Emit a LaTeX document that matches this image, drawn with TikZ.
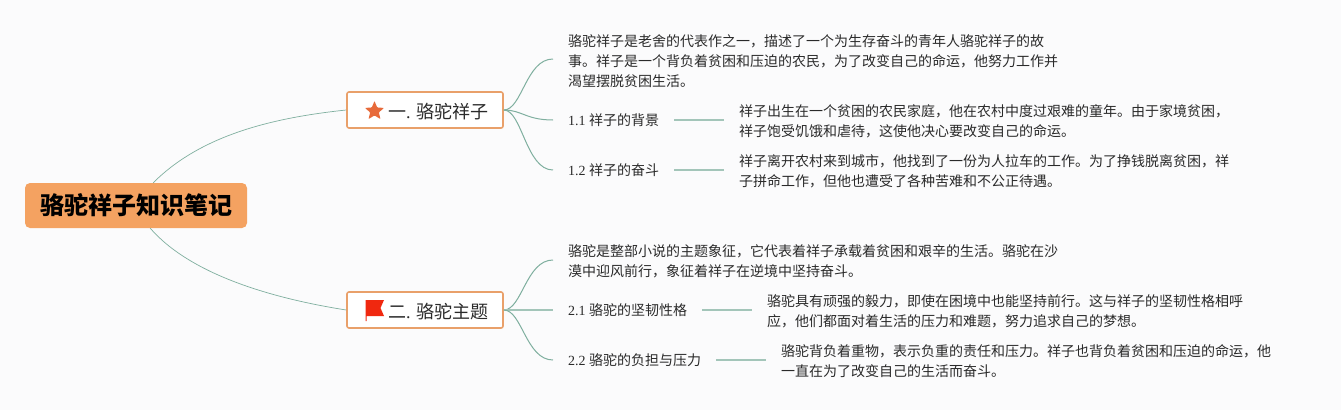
\documentclass[tikz,border=0pt]{standalone}
\usepackage{fontspec}
\setmainfont{Noto Sans CJK SC}
\newfontfamily\latf{Liberation Serif}
\newcommand{\lat}[1]{{\latf #1}}
\definecolor{bgc}{HTML}{FBFBFC}
\definecolor{rootc}{HTML}{F4A261}
\definecolor{edgec}{HTML}{E9A06A}
\definecolor{linkc}{HTML}{7FAF9F}
\definecolor{stemc}{HTML}{A3C5B9}
\definecolor{txtc}{HTML}{2A2A2A}
\definecolor{starc}{HTML}{E76A3A}
\definecolor{flagc}{HTML}{F0280F}
\tikzset{
  x=1pt,y=-1pt,
  rootbox/.style={fill=rootc,rounded corners=5pt,minimum width=222pt,minimum height=45pt,inner sep=0pt,font=\fontsize{24}{28}\selectfont\bfseries,text=black},
  branchbox/.style={draw=edgec,fill=white,rounded corners=2pt,line width=1.6pt,minimum width=156pt,minimum height=36pt,inner sep=0pt},
  branchtext/.style={inner sep=0pt,anchor=west,font=\fontsize{18}{22}\selectfont,text=txtc},
  leaf/.style={anchor=west,inner xsep=15pt,inner ysep=0pt,align=left,font=\fontsize{14}{20}\selectfont,text=txtc},
  link/.style={draw=linkc,line width=1pt},
  thin link/.style={draw=linkc,line width=.7pt},
  stem/.style={draw=stemc,line width=1.5pt},
}
\begin{document}
\begin{tikzpicture}
\useasboundingbox (0,0) rectangle (1341,410);
\fill[bgc] (0,0) rectangle (1341,410);

% nodes
\node[rootbox] (root) at (136,205.5) {骆驼祥子知识笔记};
\node[branchbox] (b1) at (425,110) {};
\node[branchbox] (b2) at (425,310) {};
\node[branchtext] (b1t) at (388,111.5) {一\lat{. }骆驼祥子};
\node[branchtext] (b2t) at (388,311.5) {二\lat{. }骆驼主题};

\node[leaf] (a0) at (553,61) {骆驼祥子是老舍的代表作之一，描述了一个为生存奋斗的青年人骆驼祥子的故\\事。祥子是一个背负着贫困和压迫的农民，为了改变自己的命运，他努力工作并\\渴望摆脱贫困生活。};
\node[leaf] (a1) at (553,120) {\lat{1.1 }祥子的背景};
\node[leaf] (a2) at (553,170) {\lat{1.2 }祥子的奋斗};
\node[leaf] (a1d) at (724,121) {祥子出生在一个贫困的农民家庭，他在农村中度过艰难的童年。由于家境贫困，\\祥子饱受饥饿和虐待，这使他决心要改变自己的命运。};
\node[leaf] (a2d) at (724,171) {祥子离开农村来到城市，他找到了一份为人拉车的工作。为了挣钱脱离贫困，祥\\子拼命工作，但他也遭受了各种苦难和不公正待遇。};

\node[leaf] (c0) at (553,261) {骆驼是整部小说的主题象征，它代表着祥子承载着贫困和艰辛的生活。骆驼在沙\\漠中迎风前行，象征着祥子在逆境中坚持奋斗。};
\node[leaf] (c1) at (553,310) {\lat{2.1 }骆驼的坚韧性格};
\node[leaf] (c2) at (553,360) {\lat{2.2 }骆驼的负担与压力};
\node[leaf] (c1d) at (752,311) {骆驼具有顽强的毅力，即使在困境中也能坚持前行。这与祥子的坚韧性格相呼\\应，他们都面对着生活的压力和难题，努力追求自己的梦想。};
\node[leaf] (c2d) at (766,361) {骆驼背负着重物，表示负重的责任和压力。祥子也背负着贫困和压迫的命运，他\\一直在为了改变自己的生活而奋斗。};

% connectors
\draw[thin link] (root.north east) ++(-94,0) coordinate (r1) .. controls (200,136) and (270,118) .. (b1.west);
\draw[thin link] (root.south east) ++(-97,0) coordinate (r2) .. controls (190,274) and (270,298) .. (b2.west);

\draw[link] (b1.east) .. controls (522,110) and (526,59) .. ([yshift=2pt]a0.west);
\draw[link] (b1.east) .. controls (522,110) and (526,120) .. (a1.west);
\draw[link] (b1.east) .. controls (522,110) and (526,170) .. (a2.west);
\draw[link] (b2.east) .. controls (522,310) and (526,260) .. ([yshift=1pt]c0.west);
\draw[stem] (b2.east) -- (c1.west);
\draw[link] (b2.east) .. controls (522,310) and (526,360) .. (c2.west);

\draw[stem] (a1.east) -- (a1.east -| a1d.west);
\draw[stem] (a2.east) -- (a2.east -| a2d.west);
\draw[stem] (c1.east) -- (c1.east -| c1d.west);
\draw[stem] (c2.east) -- (c2.east -| c2d.west);

% icons
\fill[starc,rounded corners=.8pt] (374.5,101) -- (377.2,107.5) -- (384.1,107.9) -- (378.8,112.4) -- (380.5,119.1) -- (374.5,115.4) -- (368.5,119.1) -- (370.2,112.4) -- (364.9,107.9) -- (371.8,107.5) -- cycle;
\fill[flagc] (365.5,300) -- (384,300) -- (380.5,308) -- (384,316) -- (366.5,316) -- (366.5,321) -- (365.5,321) -- cycle;
\end{tikzpicture}
\end{document}
